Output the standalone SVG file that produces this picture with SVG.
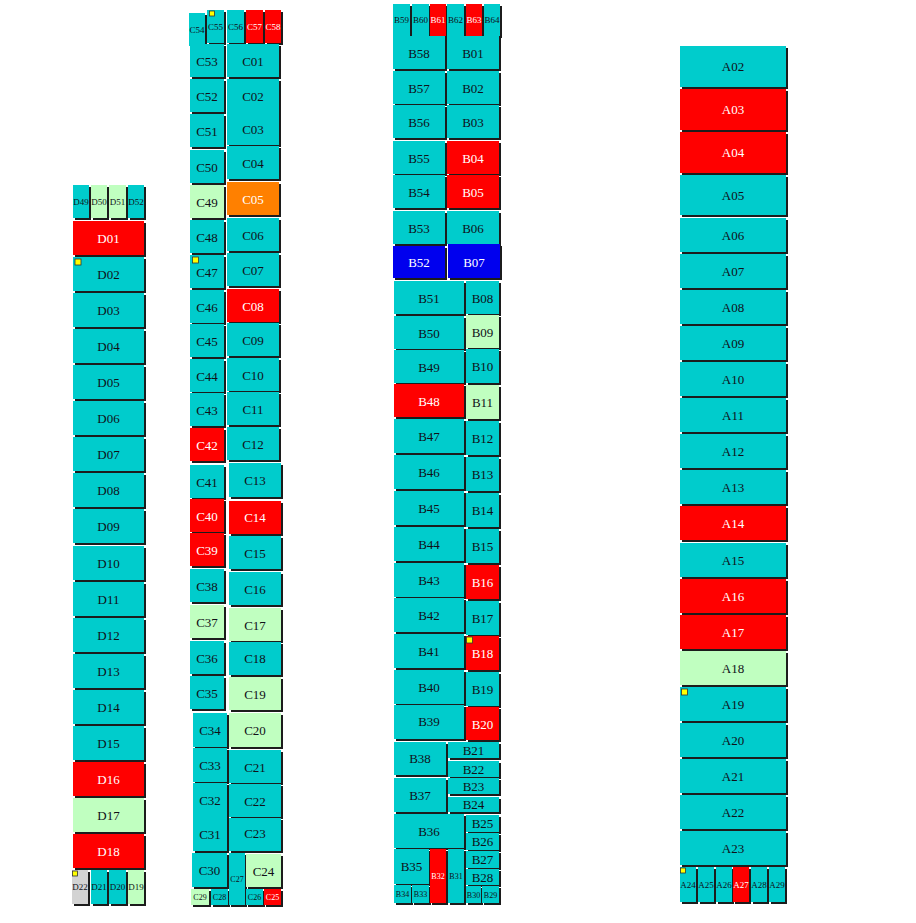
<svg xmlns="http://www.w3.org/2000/svg" width="916" height="923" viewBox="0 0 916 923">
<defs>
<filter id="sh" x="-0.3" y="-0.3" width="1.6" height="1.6"><feFlood flood-color="#1a1a1a"/><feComposite in2="SourceAlpha" operator="in"/><feOffset dx="2" dy="2" result="s"/><feMerge><feMergeNode in="s"/><feMergeNode in="SourceGraphic"/></feMerge></filter>
<style>
.c,.g,.r,.o,.b,.x{filter:url(#sh)}
.c{fill:#00CCCC}.g{fill:#C0FFC0}.r{fill:#FF0000}.o{fill:#FF8000}.b{fill:#0000EE}.x{fill:#D3D3D3}
text{font-family:"Liberation Serif","Times New Roman",serif;font-size:13px;text-anchor:middle;fill:#101018}
text.w{fill:#ffffff}
text.s{font-size:9px}
text.t{font-size:8px}
.m{fill:#FFFF00;stroke:#333;stroke-width:0.8}
</style>
</defs>
<rect width="916" height="923" fill="#ffffff"/>
<g id="connectors"/>
<!-- D column -->
<g id="D49"><rect class="c" x="73" y="185" width="16" height="33"/><text class="s" x="81" y="204.5">D49</text></g>
<g id="D50"><rect class="g" x="91" y="185" width="16" height="33"/><text class="s" x="99" y="204.5">D50</text></g>
<g id="D51"><rect class="g" x="109" y="185" width="17" height="33"/><text class="s" x="117.5" y="204.5">D51</text></g>
<g id="D52"><rect class="c" x="128" y="185" width="16" height="33"/><text class="s" x="136" y="204.5">D52</text></g>
<g id="D01"><rect class="r" x="73" y="221" width="71" height="34"/><text class="w" x="108.5" y="242.5">D01</text></g>
<g id="D02"><rect class="c" x="73" y="257" width="71" height="34"/><text x="108.5" y="278.5">D02</text></g>
<g id="D03"><rect class="c" x="73" y="293" width="71" height="34"/><text x="108.5" y="314.5">D03</text></g>
<g id="D04"><rect class="c" x="73" y="329" width="71" height="34"/><text x="108.5" y="350.5">D04</text></g>
<g id="D05"><rect class="c" x="73" y="365" width="71" height="34"/><text x="108.5" y="386.5">D05</text></g>
<g id="D06"><rect class="c" x="73" y="401" width="71" height="34"/><text x="108.5" y="422.5">D06</text></g>
<g id="D07"><rect class="c" x="73" y="437" width="71" height="34"/><text x="108.5" y="458.5">D07</text></g>
<g id="D08"><rect class="c" x="73" y="473" width="71" height="34"/><text x="108.5" y="494.5">D08</text></g>
<g id="D09"><rect class="c" x="73" y="509" width="71" height="34"/><text x="108.5" y="530.5">D09</text></g>
<g id="D10"><rect class="c" x="73" y="546" width="71" height="34"/><text x="108.5" y="567.5">D10</text></g>
<g id="D11"><rect class="c" x="73" y="582" width="71" height="34"/><text x="108.5" y="603.5">D11</text></g>
<g id="D12"><rect class="c" x="73" y="618" width="71" height="34"/><text x="108.5" y="639.5">D12</text></g>
<g id="D13"><rect class="c" x="73" y="654" width="71" height="34"/><text x="108.5" y="675.5">D13</text></g>
<g id="D14"><rect class="c" x="73" y="690" width="71" height="34"/><text x="108.5" y="711.5">D14</text></g>
<g id="D15"><rect class="c" x="73" y="726" width="71" height="34"/><text x="108.5" y="747.5">D15</text></g>
<g id="D16"><rect class="r" x="73" y="762" width="71" height="34"/><text class="w" x="108.5" y="783.5">D16</text></g>
<g id="D17"><rect class="g" x="73" y="798" width="71" height="34"/><text x="108.5" y="819.5">D17</text></g>
<g id="D18"><rect class="r" x="73" y="834" width="71" height="34"/><text class="w" x="108.5" y="855.5">D18</text></g>
<g id="D22"><rect class="x" x="72" y="870" width="16" height="34"/><text class="s" x="80" y="890">D22</text></g>
<g id="D21"><rect class="c" x="91" y="870" width="16" height="34"/><text class="s" x="99" y="890">D21</text></g>
<g id="D20"><rect class="c" x="109" y="870" width="17" height="34"/><text class="s" x="117.5" y="890">D20</text></g>
<g id="D19"><rect class="g" x="128" y="870" width="16" height="34"/><text class="s" x="136" y="890">D19</text></g>
<!-- C column -->
<g id="C54"><rect class="c" x="189" y="13" width="16" height="33"/><text class="s" x="197" y="32.5">C54</text></g>
<g id="C55"><rect class="c" x="207" y="10" width="17" height="33"/><text class="s" x="215.5" y="29.5">C55</text></g>
<g id="C56"><rect class="c" x="227" y="10" width="17" height="33"/><text class="s" x="235.5" y="29.5">C56</text></g>
<g id="C57"><rect class="r" x="246" y="10" width="17" height="33"/><text class="s w" x="254.5" y="29.5">C57</text></g>
<g id="C58"><rect class="r" x="265" y="10" width="16" height="33"/><text class="s w" x="273" y="29.5">C58</text></g>
<g id="C53"><rect class="c" x="190" y="44" width="34" height="33"/><text x="207" y="65.5">C53</text></g>
<g id="C52"><rect class="c" x="190" y="79" width="34" height="33"/><text x="207" y="100.5">C52</text></g>
<g id="C51"><rect class="c" x="190" y="114" width="34" height="33"/><text x="207" y="135.5">C51</text></g>
<g id="C50"><rect class="c" x="190" y="150" width="34" height="33"/><text x="207" y="171.5">C50</text></g>
<g id="C49"><rect class="g" x="190" y="185" width="34" height="33"/><text x="207" y="206.5">C49</text></g>
<g id="C48"><rect class="c" x="190" y="220" width="34" height="33"/><text x="207" y="241.5">C48</text></g>
<g id="C47"><rect class="c" x="190" y="255" width="34" height="33"/><text x="207" y="276.5">C47</text></g>
<g id="C46"><rect class="c" x="190" y="290" width="34" height="33"/><text x="207" y="311.5">C46</text></g>
<g id="C45"><rect class="c" x="190" y="324" width="34" height="33"/><text x="207" y="345.5">C45</text></g>
<g id="C44"><rect class="c" x="190" y="359" width="34" height="33"/><text x="207" y="380.5">C44</text></g>
<g id="C43"><rect class="c" x="190" y="393" width="34" height="33"/><text x="207" y="414.5">C43</text></g>
<g id="C42"><rect class="r" x="190" y="428" width="34" height="33"/><text class="w" x="207" y="449.5">C42</text></g>
<g id="C41"><rect class="c" x="190" y="465" width="34" height="33"/><text x="207" y="486.5">C41</text></g>
<g id="C40"><rect class="r" x="190" y="499" width="34" height="33"/><text class="w" x="207" y="520.5">C40</text></g>
<g id="C39"><rect class="r" x="190" y="533" width="34" height="33"/><text class="w" x="207" y="554.5">C39</text></g>
<g id="C38"><rect class="c" x="190" y="569" width="34" height="33"/><text x="207" y="590.5">C38</text></g>
<g id="C37"><rect class="g" x="190" y="605" width="34" height="33"/><text x="207" y="626.5">C37</text></g>
<g id="C36"><rect class="c" x="190" y="641" width="34" height="33"/><text x="207" y="662.5">C36</text></g>
<g id="C35"><rect class="c" x="190" y="676" width="34" height="33"/><text x="207" y="697.5">C35</text></g>
<g id="C34"><rect class="c" x="193" y="713" width="34" height="34"/><text x="210" y="734.5">C34</text></g>
<g id="C33"><rect class="c" x="193" y="748" width="34" height="34"/><text x="210" y="769.5">C33</text></g>
<g id="C32"><rect class="c" x="193" y="783" width="34" height="34"/><text x="210" y="804.5">C32</text></g>
<g id="C31"><rect class="c" x="193" y="817" width="34" height="34"/><text x="210" y="838.5">C31</text></g>
<g id="C30"><rect class="c" x="192" y="853" width="35" height="34"/><text x="209.5" y="874.5">C30</text></g>
<g id="C29"><rect class="g" x="191" y="889" width="18" height="16"/><text class="t" x="200" y="900">C29</text></g>
<g id="C28"><rect class="c" x="211" y="889" width="17" height="16"/><text class="t" x="219.5" y="900">C28</text></g>
<g id="C27"><rect class="c" x="229" y="853" width="16" height="52"/><text class="t" x="237" y="882">C27</text></g>
<g id="C26"><rect class="c" x="246" y="889" width="17" height="16"/><text class="t" x="254.5" y="900">C26</text></g>
<g id="C25"><rect class="r" x="264" y="889" width="17" height="16"/><text class="t w" x="272.5" y="900">C25</text></g>
<g id="C24"><rect class="g" x="246" y="854" width="35" height="33"/><text x="263.5" y="875.5">C24</text></g>
<g id="C01"><rect class="c" x="227" y="44" width="52" height="33"/><text x="253" y="65.5">C01</text></g>
<g id="C02"><rect class="c" x="227" y="79" width="52" height="33"/><text x="253" y="100.5">C02</text></g>
<g id="C03"><rect class="c" x="227" y="112" width="52" height="33"/><text x="253" y="133.5">C03</text></g>
<g id="C04"><rect class="c" x="227" y="146" width="52" height="33"/><text x="253" y="167.5">C04</text></g>
<g id="C05"><rect class="o" x="227" y="182" width="52" height="33"/><text class="w" x="253" y="203.5">C05</text></g>
<g id="C06"><rect class="c" x="227" y="218" width="52" height="33"/><text x="253" y="239.5">C06</text></g>
<g id="C07"><rect class="c" x="227" y="253" width="52" height="33"/><text x="253" y="274.5">C07</text></g>
<g id="C08"><rect class="r" x="227" y="289" width="52" height="33"/><text class="w" x="253" y="310.5">C08</text></g>
<g id="C09"><rect class="c" x="227" y="323" width="52" height="33"/><text x="253" y="344.5">C09</text></g>
<g id="C10"><rect class="c" x="227" y="358" width="52" height="33"/><text x="253" y="379.5">C10</text></g>
<g id="C11"><rect class="c" x="227" y="392" width="52" height="33"/><text x="253" y="413.5">C11</text></g>
<g id="C12"><rect class="c" x="227" y="427" width="52" height="33"/><text x="253" y="448.5">C12</text></g>
<g id="C13"><rect class="c" x="229" y="463" width="52" height="34"/><text x="255" y="484.5">C13</text></g>
<g id="C14"><rect class="r" x="229" y="501" width="52" height="33"/><text class="w" x="255" y="521.5">C14</text></g>
<g id="C15"><rect class="c" x="229" y="536" width="52" height="33"/><text x="255" y="557.5">C15</text></g>
<g id="C16"><rect class="c" x="229" y="572" width="52" height="33"/><text x="255" y="593.5">C16</text></g>
<g id="C17"><rect class="g" x="229" y="608" width="52" height="33"/><text x="255" y="629.5">C17</text></g>
<g id="C18"><rect class="c" x="229" y="642" width="52" height="33"/><text x="255" y="662.5">C18</text></g>
<g id="C19"><rect class="g" x="229" y="677" width="52" height="33"/><text x="255" y="698.5">C19</text></g>
<g id="C20"><rect class="g" x="229" y="713" width="52" height="34"/><text x="255" y="734.5">C20</text></g>
<g id="C21"><rect class="c" x="229" y="750" width="52" height="33"/><text x="255" y="771.5">C21</text></g>
<g id="C22"><rect class="c" x="229" y="784" width="52" height="33"/><text x="255" y="805.5">C22</text></g>
<g id="C23"><rect class="c" x="229" y="818" width="52" height="33"/><text x="255" y="837.5">C23</text></g>
<!-- B column -->
<g id="B59"><rect class="c" x="393" y="4" width="17" height="32"/><text class="s" x="401.5" y="23">B59</text></g>
<g id="B60"><rect class="c" x="412" y="4" width="17" height="32"/><text class="s" x="420.5" y="23">B60</text></g>
<g id="B61"><rect class="r" x="430" y="4" width="16" height="32"/><text class="s w" x="438" y="23">B61</text></g>
<g id="B62"><rect class="c" x="447" y="4" width="17" height="32"/><text class="s" x="455.5" y="23">B62</text></g>
<g id="B63"><rect class="r" x="466" y="4" width="16" height="32"/><text class="s w" x="474" y="23">B63</text></g>
<g id="B64"><rect class="c" x="484" y="4" width="16" height="32"/><text class="s" x="492" y="23">B64</text></g>
<g id="B58"><rect class="c" x="393" y="36" width="52" height="33"/><text x="419" y="57.5">B58</text></g>
<g id="B57"><rect class="c" x="393" y="71" width="52" height="33"/><text x="419" y="92.5">B57</text></g>
<g id="B56"><rect class="c" x="393" y="105" width="52" height="33"/><text x="419" y="126.5">B56</text></g>
<g id="B55"><rect class="c" x="393" y="141" width="52" height="33"/><text x="419" y="162.5">B55</text></g>
<g id="B54"><rect class="c" x="393" y="175" width="52" height="33"/><text x="419" y="196.5">B54</text></g>
<g id="B53"><rect class="c" x="393" y="211" width="52" height="33"/><text x="419" y="232.5">B53</text></g>
<g id="B52"><rect class="b" x="393" y="246" width="52" height="32"/><text class="w" x="419" y="266.5">B52</text></g>
<g id="B01"><rect class="c" x="447" y="36" width="52" height="33"/><text x="473" y="57.5">B01</text></g>
<g id="B02"><rect class="c" x="447" y="71" width="52" height="33"/><text x="473" y="92.5">B02</text></g>
<g id="B03"><rect class="c" x="447" y="105" width="52" height="33"/><text x="473" y="126.5">B03</text></g>
<g id="B04"><rect class="r" x="447" y="141" width="52" height="33"/><text class="w" x="473" y="162.5">B04</text></g>
<g id="B05"><rect class="r" x="447" y="175" width="52" height="33"/><text class="w" x="473" y="196.5">B05</text></g>
<g id="B06"><rect class="c" x="447" y="211" width="52" height="33"/><text x="473" y="232.5">B06</text></g>
<g id="B07"><rect class="b" x="448" y="244" width="52" height="34"/><text class="w" x="474" y="266.5">B07</text></g>
<g id="B51"><rect class="c" x="394" y="281" width="70" height="33"/><text x="429" y="302.5">B51</text></g>
<g id="B50"><rect class="c" x="394" y="316" width="70" height="33"/><text x="429" y="337.5">B50</text></g>
<g id="B49"><rect class="c" x="394" y="350" width="70" height="33"/><text x="429" y="371.5">B49</text></g>
<g id="B48"><rect class="r" x="394" y="384" width="70" height="33"/><text class="w" x="429" y="405.5">B48</text></g>
<g id="B47"><rect class="c" x="394" y="419" width="70" height="34"/><text x="429" y="440.5">B47</text></g>
<g id="B46"><rect class="c" x="394" y="455" width="70" height="34"/><text x="429" y="476.5">B46</text></g>
<g id="B45"><rect class="c" x="394" y="491" width="70" height="34"/><text x="429" y="512.5">B45</text></g>
<g id="B44"><rect class="c" x="394" y="527" width="70" height="34"/><text x="429" y="548.5">B44</text></g>
<g id="B43"><rect class="c" x="394" y="563" width="70" height="34"/><text x="429" y="584.5">B43</text></g>
<g id="B42"><rect class="c" x="394" y="598" width="70" height="34"/><text x="429" y="619.5">B42</text></g>
<g id="B41"><rect class="c" x="394" y="634" width="70" height="34"/><text x="429" y="655.5">B41</text></g>
<g id="B40"><rect class="c" x="394" y="670" width="70" height="34"/><text x="429" y="691.5">B40</text></g>
<g id="B39"><rect class="c" x="394" y="705" width="70" height="34"/><text x="429" y="725.5">B39</text></g>
<g id="B08"><rect class="c" x="466" y="281" width="33" height="33"/><text x="482.5" y="302.5">B08</text></g>
<g id="B09"><rect class="g" x="466" y="315" width="33" height="33"/><text x="482.5" y="336.5">B09</text></g>
<g id="B10"><rect class="c" x="466" y="349" width="33" height="34"/><text x="482.5" y="370.5">B10</text></g>
<g id="B11"><rect class="g" x="466" y="385" width="33" height="34"/><text x="482.5" y="406.5">B11</text></g>
<g id="B12"><rect class="c" x="466" y="421" width="33" height="34"/><text x="482.5" y="442.5">B12</text></g>
<g id="B13"><rect class="c" x="466" y="457" width="33" height="34"/><text x="482.5" y="478.5">B13</text></g>
<g id="B14"><rect class="c" x="466" y="493" width="33" height="34"/><text x="482.5" y="514.5">B14</text></g>
<g id="B15"><rect class="c" x="466" y="529" width="33" height="34"/><text x="482.5" y="550.5">B15</text></g>
<g id="B16"><rect class="r" x="466" y="565" width="33" height="34"/><text class="w" x="482.5" y="586.5">B16</text></g>
<g id="B17"><rect class="c" x="466" y="601" width="33" height="34"/><text x="482.5" y="622.5">B17</text></g>
<g id="B18"><rect class="r" x="466" y="636" width="33" height="34"/><text class="w" x="482.5" y="657.5">B18</text></g>
<g id="B19"><rect class="c" x="466" y="672" width="33" height="34"/><text x="482.5" y="693.5">B19</text></g>
<g id="B20"><rect class="r" x="466" y="707" width="33" height="33"/><text class="w" x="482.5" y="728.5">B20</text></g>
<g id="B38"><rect class="c" x="394" y="742" width="52" height="33"/><text x="420" y="763">B38</text></g>
<g id="B37"><rect class="c" x="394" y="778" width="52" height="34"/><text x="420" y="799.5">B37</text></g>
<g id="B21"><rect class="c" x="448" y="742" width="51" height="16"/><text x="473.5" y="754.5">B21</text></g>
<g id="B22"><rect class="c" x="448" y="761" width="51" height="16"/><text x="473.5" y="773.5">B22</text></g>
<g id="B23"><rect class="c" x="448" y="778" width="51" height="16"/><text x="473.5" y="790.5">B23</text></g>
<g id="B24"><rect class="c" x="448" y="797" width="51" height="15"/><text x="473.5" y="809">B24</text></g>
<g id="B36"><rect class="c" x="394" y="814" width="70" height="34"/><text x="429" y="835.5">B36</text></g>
<g id="B25"><rect class="c" x="466" y="815" width="33" height="17"/><text x="482.5" y="828">B25</text></g>
<g id="B26"><rect class="c" x="466" y="833" width="33" height="17"/><text x="482.5" y="846">B26</text></g>
<g id="B27"><rect class="c" x="466" y="851" width="33" height="17"/><text x="482.5" y="864">B27</text></g>
<g id="B28"><rect class="c" x="466" y="869" width="33" height="16"/><text x="482.5" y="881.5">B28</text></g>
<g id="B30"><rect class="c" x="466" y="886" width="15" height="17"/><text class="t" x="473.5" y="897.5">B30</text></g>
<g id="B29"><rect class="c" x="482" y="886" width="17" height="17"/><text class="t" x="490.5" y="897.5">B29</text></g>
<g id="B35"><rect class="c" x="394" y="849" width="35" height="35"/><text x="411.5" y="871">B35</text></g>
<g id="B34"><rect class="c" x="394" y="885" width="17" height="18"/><text class="t" x="402.5" y="897">B34</text></g>
<g id="B33"><rect class="c" x="412" y="885" width="17" height="18"/><text class="t" x="420.5" y="897">B33</text></g>
<g id="B32"><rect class="r" x="430" y="849" width="16" height="54"/><text class="t w" x="438" y="879">B32</text></g>
<g id="B31"><rect class="c" x="448" y="849" width="16" height="54"/><text class="t" x="456" y="879">B31</text></g>
<!-- A column -->
<g id="A02"><rect class="c" x="680" y="46" width="106" height="41"/><text x="733" y="71">A02</text></g>
<g id="A03"><rect class="r" x="680" y="89" width="106" height="41"/><text class="w" x="733" y="114">A03</text></g>
<g id="A04"><rect class="r" x="680" y="132" width="106" height="41"/><text class="w" x="733" y="157">A04</text></g>
<g id="A05"><rect class="c" x="680" y="175" width="106" height="40"/><text x="733" y="199.5">A05</text></g>
<g id="A06"><rect class="c" x="680" y="218" width="106" height="34"/><text x="733" y="239.5">A06</text></g>
<g id="A07"><rect class="c" x="680" y="254" width="106" height="34"/><text x="733" y="275.5">A07</text></g>
<g id="A08"><rect class="c" x="680" y="290" width="106" height="34"/><text x="733" y="311.5">A08</text></g>
<g id="A09"><rect class="c" x="680" y="326" width="106" height="34"/><text x="733" y="347.5">A09</text></g>
<g id="A10"><rect class="c" x="680" y="362" width="106" height="34"/><text x="733" y="383.5">A10</text></g>
<g id="A11"><rect class="c" x="680" y="398" width="106" height="34"/><text x="733" y="419.5">A11</text></g>
<g id="A12"><rect class="c" x="680" y="434" width="106" height="34"/><text x="733" y="455.5">A12</text></g>
<g id="A13"><rect class="c" x="680" y="470" width="106" height="34"/><text x="733" y="491.5">A13</text></g>
<g id="A14"><rect class="r" x="680" y="506" width="106" height="34"/><text class="w" x="733" y="527.5">A14</text></g>
<g id="A15"><rect class="c" x="680" y="543" width="106" height="34"/><text x="733" y="564.5">A15</text></g>
<g id="A16"><rect class="r" x="680" y="579" width="106" height="34"/><text class="w" x="733" y="600.5">A16</text></g>
<g id="A17"><rect class="r" x="680" y="615" width="106" height="34"/><text class="w" x="733" y="636.5">A17</text></g>
<g id="A18"><rect class="g" x="680" y="651" width="106" height="34"/><text x="733" y="672.5">A18</text></g>
<g id="A19"><rect class="c" x="680" y="687" width="106" height="34"/><text x="733" y="708.5">A19</text></g>
<g id="A20"><rect class="c" x="680" y="723" width="106" height="34"/><text x="733" y="744.5">A20</text></g>
<g id="A21"><rect class="c" x="680" y="759" width="106" height="34"/><text x="733" y="780.5">A21</text></g>
<g id="A22"><rect class="c" x="680" y="795" width="106" height="34"/><text x="733" y="816.5">A22</text></g>
<g id="A23"><rect class="c" x="680" y="831" width="106" height="34"/><text x="733" y="852.5">A23</text></g>
<g id="A24"><rect class="c" x="680" y="867" width="16" height="35"/><text class="s" x="688" y="887.5">A24</text></g>
<g id="A25"><rect class="c" x="698" y="867" width="16" height="35"/><text class="s" x="706" y="887.5">A25</text></g>
<g id="A26"><rect class="c" x="716" y="867" width="16" height="35"/><text class="s" x="724" y="887.5">A26</text></g>
<g id="A27"><rect class="r" x="733" y="867" width="16" height="35"/><text class="s w" x="741" y="887.5">A27</text></g>
<g id="A28"><rect class="c" x="751" y="867" width="16" height="35"/><text class="s" x="759" y="887.5">A28</text></g>
<g id="A29"><rect class="c" x="769" y="867" width="16" height="35"/><text class="s" x="777" y="887.5">A29</text></g>
<!-- yellow markers -->
<g id="markers">
<rect class="m" x="75" y="259" width="6" height="6"/>
<rect class="m" x="72.5" y="871" width="5" height="5"/>
<rect class="m" x="209.5" y="11" width="5" height="5"/>
<rect class="m" x="192.5" y="257" width="6" height="6"/>
<rect class="m" x="466.5" y="637" width="6" height="6"/>
<rect class="m" x="681.5" y="689" width="6" height="6"/>
<rect class="m" x="680.5" y="868" width="5" height="5"/>
</g>
</svg>
